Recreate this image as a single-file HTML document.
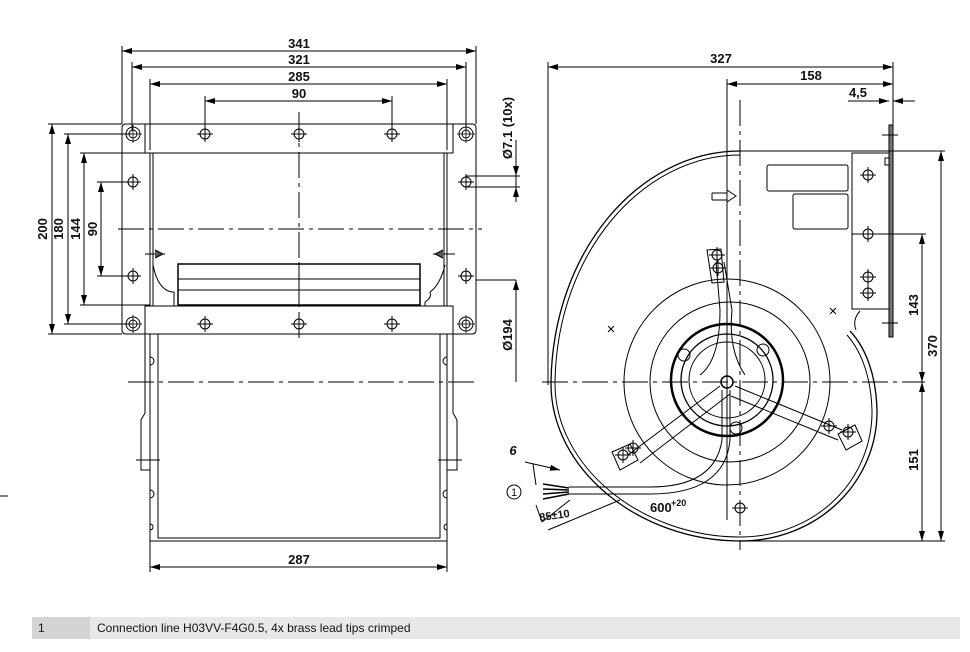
<!DOCTYPE html>
<html><head><meta charset="utf-8"><style>
html,body{margin:0;padding:0;background:#fff;}
svg{display:block;}
text{font-family:"Liberation Sans Narrow","Liberation Sans",sans-serif;font-size:12px;fill:#111;}
.d{font-size:13px;font-weight:bold;}
</style></head><body>
<svg width="970" height="652" viewBox="0 0 970 652" xmlns="http://www.w3.org/2000/svg">
<defs>
<marker id="a" viewBox="0 0 10 6" refX="10" refY="3" markerWidth="10" markerHeight="6" orient="auto-start-reverse" markerUnits="userSpaceOnUse"><path d="M0,0 L10,3 L0,6z" fill="#000"/></marker>
<g id="h"><circle r="5" fill="none" stroke="#000" stroke-width="1"/><path d="M-8,0H8M0,-8V8" stroke="#000" stroke-width="1"/></g>
<g id="hc"><circle r="7" fill="none" stroke="#000" stroke-width="1"/><circle r="4" fill="none" stroke="#000" stroke-width="1"/><path d="M-9,0H9M0,-9V9" stroke="#000" stroke-width="0.8"/></g>
</defs>
<g stroke="#000" fill="none" stroke-width="1">
<path d="M122,124V46M476,124V46M132,130V62M466,130V62M150,150V79M447,150V79M205,128V96M392,128V96"/>
<line x1="122" y1="51" x2="476" y2="51" marker-start="url(#a)" marker-end="url(#a)"/>
<line x1="132" y1="67" x2="466" y2="67" marker-start="url(#a)" marker-end="url(#a)"/>
<line x1="150" y1="84" x2="447" y2="84" marker-start="url(#a)" marker-end="url(#a)"/>
<line x1="205" y1="101" x2="392" y2="101" marker-start="url(#a)" marker-end="url(#a)"/>
<path d="M48,124H122M64,134H132M80,153H150M97,182H132M97,276H132M80,305H150M64,324H132M48,334H122"/>
<line x1="52" y1="124" x2="52" y2="334" marker-start="url(#a)" marker-end="url(#a)"/>
<line x1="68" y1="134" x2="68" y2="324" marker-start="url(#a)" marker-end="url(#a)"/>
<line x1="84" y1="153" x2="84" y2="305" marker-start="url(#a)" marker-end="url(#a)"/>
<line x1="101" y1="182" x2="101" y2="276" marker-start="url(#a)" marker-end="url(#a)"/>
<path d="M126,124H472Q476,124 476,128V330Q476,334 472,334H126Q122,334 122,330V128Q122,124 126,124Z"/>
<rect x="145" y="124" width="308" height="29"/>
<path d="M150,153V306M153,153V306M447,153V306M444,153V306"/>
<rect x="145" y="306" width="308" height="28"/>
<path d="M145,153H453"/>
<rect x="178" y="264" width="242" height="41" stroke-width="1.5"/>
<path d="M178,279H420M178,290H420M299,262V306"/>
<path d="M153,265Q158,290 172,292H174V306M445,265Q440,285 430,292Q432,298 425,302V306"/>
<path d="M145,254H165M433,254H455" />
<path d="M155,250l8,4-8,4M443,250l-8,4 8,4" fill="#555"/>
<path d="M118,229H482M299,112V338M128,382H475" stroke-dasharray="26,5,4,5"/>
<path d="M150,334V541H447V334M158,334V538H440V334M150,541H447"/>
<path d="M145,334V413L141,420V470H150M453,334V413L457,420V470H447M136,460H160M438,460H462"/>
<path d="M150,357a3,3 0 0 1 0,8M150,490a3,3 0 0 1 0,8M150,524a3,3 0 0 1 0,6M447,357a3,3 0 0 0 0,8M447,490a3,3 0 0 0 0,8M447,524a3,3 0 0 0 0,6"/>
<path d="M150,541V572M447,541V572"/>
<line x1="150" y1="567" x2="447" y2="567" marker-start="url(#a)" marker-end="url(#a)"/>
<path d="M466,176H520M466,187H520M516,140V202M476,280H516M516,280V382"/>
<line x1="516" y1="160" x2="516" y2="176" marker-end="url(#a)"/>
<line x1="516" y1="200" x2="516" y2="187" marker-end="url(#a)"/>
<line x1="516" y1="382" x2="516" y2="280" marker-end="url(#a)"/>
<path d="M0,496H8"/>
</g>
<g>
<use href="#hc" x="133" y="134"/><use href="#hc" x="466" y="134"/><use href="#hc" x="133" y="324"/><use href="#hc" x="466" y="324"/>
<use href="#h" x="205" y="134"/><use href="#h" x="299" y="134"/><use href="#h" x="392" y="134"/>
<use href="#h" x="205" y="324"/><use href="#h" x="299" y="324"/><use href="#h" x="392" y="324"/>
<use href="#h" x="133" y="182"/><use href="#h" x="466" y="182"/><use href="#h" x="133" y="276"/><use href="#h" x="466" y="276"/>
</g>
<text x="299" y="48" text-anchor="middle" class="d">341</text>
<text x="299" y="64" text-anchor="middle" class="d">321</text>
<text x="299" y="81" text-anchor="middle" class="d">285</text>
<text x="299" y="98" text-anchor="middle" class="d">90</text>
<text x="299" y="564" text-anchor="middle" class="d">287</text>
<text class="d" transform="translate(47,229) rotate(-90)" text-anchor="middle">200</text>
<text class="d" transform="translate(63,229) rotate(-90)" text-anchor="middle">180</text>
<text class="d" transform="translate(80,229) rotate(-90)" text-anchor="middle">144</text>
<text class="d" transform="translate(97,229) rotate(-90)" text-anchor="middle">90</text>
<text class="d" transform="translate(512,128) rotate(-90)" text-anchor="middle">Ø7.1 (10x)</text>
<text class="d" transform="translate(512,335) rotate(-90)" text-anchor="middle">Ø194</text>

<g stroke="#000" fill="none" stroke-width="1">
<path d="M548,62V385M893,62V125M727,79V520"/>
<line x1="548" y1="67" x2="893" y2="67" marker-start="url(#a)" marker-end="url(#a)"/>
<line x1="727" y1="84" x2="893" y2="84" marker-start="url(#a)" marker-end="url(#a)"/>
<path d="M848,101H878M915,101H898"/>
<line x1="876" y1="101" x2="889" y2="101" marker-end="url(#a)"/>
<line x1="905" y1="101" x2="893" y2="101" marker-end="url(#a)"/>
<rect x="889" y="125" width="4" height="212" fill="#777"/>
<path d="M882,135H898M882,323H898"/>
<path d="M740,151H945"/>
<rect x="852" y="153" width="37" height="156"/>
<rect x="885" y="158" width="4" height="7"/>
<rect x="767" y="165" width="81" height="26" rx="2"/>
<rect x="793" y="194" width="55" height="35" rx="2"/>
<path d="M852,234H926M740,541H945"/>
<path d="M740,151C640,151 553,250 551,382C550,470 640,541 740,541C820,541 878,480 877,410C876,375 866,348 850,331" stroke-width="1.3"/>
<path d="M740,155C643,155 557,252 555,382C554,467 642,537 740,537C818,537 873,478 872,410C871,378 862,352 847,335"/>
<path d="M860,311Q852,320 856,330"/>
<circle cx="727" cy="382" r="103"/>
<circle cx="730" cy="382" r="80"/>
<circle cx="727" cy="380" r="56" stroke-width="2.5"/>
<circle cx="727" cy="380" r="46" stroke-width="1.3"/>
<circle cx="727" cy="380" r="38"/>
<circle cx="684" cy="355" r="6"/><circle cx="763" cy="350" r="6"/><circle cx="736" cy="428" r="6"/>
<path d="M716,262L720,310Q720,360 700,375M724,262L732,310Q728,350 745,375"/>
<path d="M720,386L628,455M730,394L640,463"/>
<path d="M735,386L842,430M731,396L838,440"/>
<path d="M707,250L721,249L724,282L712,283Z"/>
<path d="M612,452L630,444L638,460L620,470Z"/>
<path d="M838,434L855,425L862,441L846,450Z"/>
<circle cx="727" cy="382" r="6" stroke-width="1.5"/>
<path d="M569,487H650Q715,487 722,440V390M569,494H650Q725,494 730,440V390"/>
<path d="M543,484L569,488M543,489L569,490M543,494L569,492M543,499L569,494" stroke-width="1.5"/>
<path d="M533,464L536,485M536,505L542,522M570,500L542,522M548,530L620,500"/>
<line x1="525" y1="462" x2="560" y2="470" marker-end="url(#a)"/>
<circle cx="514" cy="492" r="7"/>
<path d="M542,382H925M740,100V550" stroke-dasharray="26,5,4,5"/>
<line x1="922" y1="234" x2="922" y2="382" marker-start="url(#a)" marker-end="url(#a)"/>
<line x1="922" y1="382" x2="922" y2="541" marker-start="url(#a)" marker-end="url(#a)"/>
<line x1="941" y1="151" x2="941" y2="541" marker-start="url(#a)" marker-end="url(#a)"/>
<path d="M712,193H727M712,200H727M712,193V200M727,190L736,196L727,202" />
</g>
<g>
<use href="#h" x="868" y="175"/><use href="#h" x="868" y="234"/><use href="#h" x="868" y="277"/><use href="#h" x="868" y="293"/>
<use href="#h" x="717" y="255"/><use href="#h" x="718" y="268"/>
<use href="#h" x="623" y="455"/><use href="#h" x="633" y="448"/>
<use href="#h" x="848" y="432"/><use href="#h" x="829" y="426"/>
<use href="#h" x="740" y="508"/>
</g>
<path d="M608,326l6,6m0,-6l-6,6M830,308l6,6m0,-6l-6,6" stroke="#000"/>
<text x="721" y="63" text-anchor="middle" class="d">327</text>
<text x="811" y="80" text-anchor="middle" class="d">158</text>
<text x="858" y="97" text-anchor="middle" class="d">4,5</text>
<text class="d" transform="translate(918,305) rotate(-90)" text-anchor="middle">143</text>
<text class="d" transform="translate(937,346) rotate(-90)" text-anchor="middle">370</text>
<text class="d" transform="translate(918,460) rotate(-90)" text-anchor="middle">151</text>
<text x="513" y="455" text-anchor="middle" class="d" font-style="italic">6</text>
<text x="514" y="496" text-anchor="middle" style="font-size:11px">1</text>
<text class="d" transform="translate(555,519) rotate(-8)" text-anchor="middle" style="font-size:11px">85±10</text>
<text x="650" y="512" class="d">600</text><text x="671" y="506" class="d" style="font-size:9px">+20</text>

<rect x="32" y="617" width="58" height="22" fill="#d4d4d4"/>
<rect x="90" y="617" width="870" height="22" fill="#e8e8e8"/>
<text x="38" y="632">1</text>
<text x="97" y="632">Connection line H03VV-F4G0.5, 4x brass lead tips crimped</text>
</svg>
</body></html>
